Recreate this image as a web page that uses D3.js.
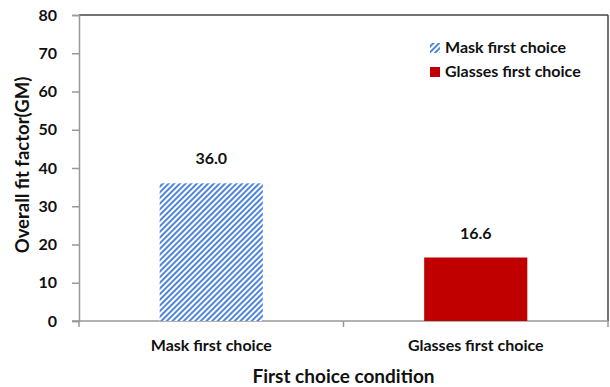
<!DOCTYPE html>
<html><head><meta charset="utf-8">
<script src="https://cdn.jsdelivr.net/npm/d3@7"></script>
<style>body{margin:0;background:#fff}svg{display:block}text{font-family:Lato,"Open Sans",sans-serif;font-weight:bold;fill:#111}</style>
</head><body>
<script>
const categories = ["Mask first choice", "Glasses first choice"];
const values = [36.0, 16.6];
const yTicks = [0, 10, 20, 30, 40, 50, 60, 70, 80];
const seriesColors = ["url(#hatch)", "#c00000"];

const W = 610, H = 387;
const m = {left: 79, right: 2, top: 15, bottom: 66};
const svg = d3.select("body").append("svg").attr("width", W).attr("height", H);
const defs = svg.append("defs");
const pat = defs.append("pattern").attr("id", "hatch").attr("patternUnits", "userSpaceOnUse")
  .attr("width", 4).attr("height", 4).attr("patternTransform", "rotate(45)");
pat.append("rect").attr("width", 4).attr("height", 4).attr("fill", "#fff");
pat.append("rect").attr("width", 2).attr("height", 4).attr("fill", "#4f86d9");

const x = d3.scaleBand().domain(categories).range([m.left, W - m.right]).padding(0);
const y = d3.scaleLinear().domain([0, 80]).range([H - m.bottom, m.top]);

// frame top & right
svg.append("line").attr("x1", m.left).attr("x2", W - m.right).attr("y1", m.top).attr("y2", m.top).attr("stroke", "#444").attr("stroke-width", 1.5);
svg.append("line").attr("x1", W - m.right).attr("x2", W - m.right).attr("y1", m.top).attr("y2", y(0)).attr("stroke", "#444").attr("stroke-width", 1.5);

// y axis
const ya = svg.append("g").attr("transform", `translate(${m.left},0)`)
  .call(d3.axisLeft(y).tickValues(yTicks).tickSize(7).tickPadding(15).tickFormat(d3.format("d")));
ya.select(".domain").attr("stroke", "#999").attr("stroke-width", 1.5);
ya.selectAll(".tick line").attr("stroke", "#999").attr("stroke-width", 1.5);
ya.selectAll("text").style("font-size", "16px").style("font-family", "Lato,sans-serif").style("font-weight", "bold").attr("fill", "#111");

// x axis
const xa = svg.append("g").attr("transform", `translate(0,${y(0)})`)
  .call(d3.axisBottom(x).tickSize(0).tickPadding(0));
xa.select(".domain").attr("stroke", "#999").attr("stroke-width", 1.5).attr("d", `M${m.left - 7},0H${W - m.right}`);
xa.selectAll("text").attr("y", 30).attr("dy", null).style("font-size", "16px").style("font-family", "Lato,sans-serif").style("font-weight", "bold").attr("fill", "#111");
const bounds = [m.left, m.left + x.bandwidth(), W - m.right];
xa.selectAll(".bt").data(bounds).join("line").attr("class", "bt")
  .attr("x1", d => d).attr("x2", d => d).attr("y1", 0).attr("y2", 6).attr("stroke", "#999").attr("stroke-width", 1.5);

// bars
const bw = x.bandwidth() * 0.39;
svg.selectAll(".bar").data(values).join("rect").attr("class", "bar")
  .attr("x", (d, i) => x(categories[i]) + x.bandwidth() / 2 - bw / 2)
  .attr("width", bw)
  .attr("y", d => y(d)).attr("height", d => y(0) - y(d))
  .attr("fill", (d, i) => seriesColors[i]);

svg.selectAll(".lbl").data(values).join("text").attr("class", "lbl")
  .attr("x", (d, i) => x(categories[i]) + x.bandwidth() / 2)
  .attr("y", d => y(d) - 19).attr("text-anchor", "middle").style("font-size", "16px")
  .text(d => d.toFixed(1));

// axis titles
svg.append("text").attr("transform", `translate(29,165) rotate(-90)`)
  .attr("text-anchor", "middle").style("font-size", "18.5px").text("Overall fit factor(GM)");
svg.append("text").attr("x", (m.left + W - m.right) / 2).attr("y", 383)
  .attr("text-anchor", "middle").style("font-size", "19px").text("First choice condition");

// legend
const lg = svg.append("g");
categories.forEach((c, i) => {
  const yy = 43 + i * 24;
  lg.append("rect").attr("x", 430).attr("y", yy).attr("width", 10).attr("height", 10).attr("fill", seriesColors[i]);
  lg.append("text").attr("x", 445).attr("y", yy + 10).style("font-size", "16px").text(c);
});
</script>
</body></html>
